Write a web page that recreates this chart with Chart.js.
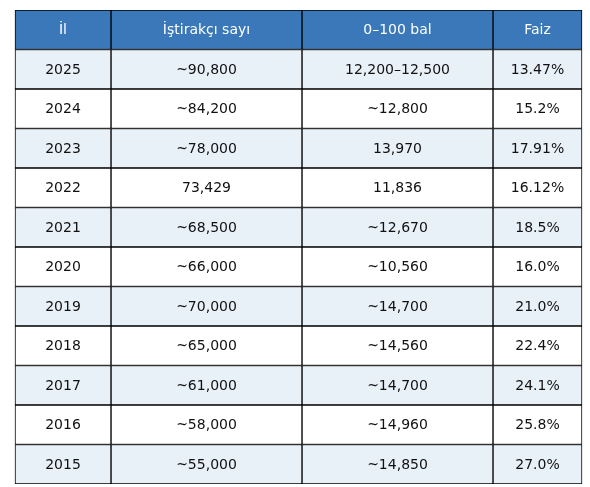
<!DOCTYPE html>
<html>
<head>
<meta charset="utf-8">
<script src="https://cdn.jsdelivr.net/npm/chart.js@4"></script>
<style>
  html, body { margin: 0; padding: 0; background: #fff; }
  #wrap { width: 590px; height: 487px; }
</style>
</head>
<body>
<div id="wrap"><canvas id="c"></canvas></div>
<script>
// Table data
const headers = ['İl', 'İştirakçı sayı', '0–100 bal', 'Faiz'];
const years = ['2025', '2024', '2023', '2022', '2021', '2020', '2019', '2018', '2017', '2016', '2015'];
const participants = ['~90,800', '~84,200', '~78,000', '73,429', '~68,500', '~66,000', '~70,000', '~65,000', '~61,000', '~58,000', '~55,000'];
const fullScore = ['12,200–12,500', '~12,800', '13,970', '11,836', '~12,670', '~10,560', '~14,700', '~14,560', '~14,700', '~14,960', '~14,850'];
const percent = ['13.47%', '15.2%', '17.91%', '16.12%', '18.5%', '16.0%', '21.0%', '22.4%', '24.1%', '25.8%', '27.0%'];

// Layout: column edges in pixels along a 0..590 x scale
const colEdges = [15, 111, 302, 493, 582];

const rows = [headers].concat(years.map((y, i) => [y, participants[i], fullScore[i], percent[i]]));
const labels = rows.map((_, i) => 'r' + i);
const rowFill = i => i === 0 ? '#3a78b9' : (i % 2 === 1 ? '#e8f0f8' : '#ffffff');

const datasets = headers.map((_, c) => ({
  data: rows.map(() => [colEdges[c], colEdges[c + 1]]),
  texts: rows.map(r => r[c]),
  backgroundColor: rows.map((_, i) => rowFill(i)),
  borderColor: '#000',
  borderWidth: 1,
  borderSkipped: false,
  barPercentage: 1,
  categoryPercentage: 1,
  grouped: false,
}));

new Chart(document.getElementById('c').getContext('2d'), {
  type: 'bar',
  data: { labels, datasets },
  options: {
    indexAxis: 'y',
    responsive: true,
    maintainAspectRatio: false,
    animation: false,
    layout: { padding: { top: 10, bottom: 3, left: 0, right: 0 } },
    plugins: { legend: { display: false }, tooltip: { enabled: false } },
    scales: {
      x: { type: 'linear', min: 0, max: 590, display: false },
      y: { display: false },
    },
  },
  plugins: [{
    id: 'cellText',
    afterDatasetsDraw(chart) {
      const { ctx } = chart;
      ctx.save();
      ctx.textAlign = 'center';
      ctx.textBaseline = 'middle';
      ctx.font = '14px "DejaVu Sans", sans-serif';
      chart.data.datasets.forEach((ds, di) => {
        chart.getDatasetMeta(di).data.forEach((bar, i) => {
          ctx.fillStyle = i === 0 ? '#ffffff' : '#111111';
          const cx = (bar.x + bar.base) / 2;
          ctx.fillText(ds.texts[i], cx, bar.y + 1);
        });
      });
      ctx.restore();
    },
  }],
});
</script>
</body>
</html>
